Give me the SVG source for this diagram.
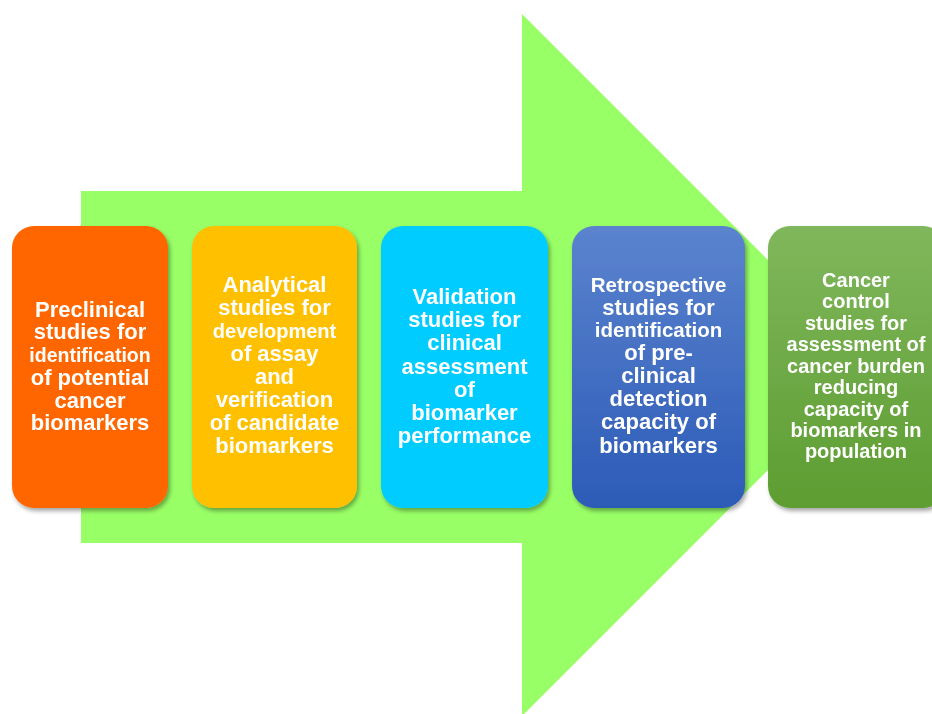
<svg xmlns="http://www.w3.org/2000/svg" width="932" height="714" viewBox="0 0 932 714">
  <style>
    .lbl { font-family: "Liberation Sans", Arial, sans-serif; font-weight: bold; fill: #ffffff; text-anchor: middle; font-size: 22px; }
    .sm { font-size: 20px; }
    .xs { font-size: 19.5px; }
    .md { font-size: 20.5px; }
  </style>
  <defs>
    <filter id="shadow" x="-10%" y="-10%" width="130%" height="130%">
      <feDropShadow dx="2" dy="3" stdDeviation="2" flood-color="#000000" flood-opacity="0.35"/>
    </filter>
    <linearGradient id="blueGrad" x1="0" y1="0" x2="0" y2="1">
      <stop offset="0" stop-color="#5B83CE"/>
      <stop offset="1" stop-color="#2C5BB7"/>
    </linearGradient>
    <linearGradient id="greenGrad" x1="0" y1="0" x2="0" y2="1">
      <stop offset="0" stop-color="#80B75C"/>
      <stop offset="1" stop-color="#5D9D31"/>
    </linearGradient>
  </defs>
  <rect width="932" height="714" fill="#ffffff"/>

  <!-- big block arrow behind the stages -->
  <g id="connectors">
    <path d="M81,191 L522,191 L522,14 L873,365 L522,716 L522,543 L81,543 Z" fill="#99FF66"/>
  </g>

  <g id="stage1" filter="url(#shadow)">
    <rect x="12" y="226" width="156" height="282" rx="22" fill="#FF6600"/>
    <text class="lbl" x="90" y="317">Preclinical</text>
    <text class="lbl" x="90" y="339">studies for</text>
    <text class="lbl xs" x="90" y="362">identification</text>
    <text class="lbl" x="90" y="385">of potential</text>
    <text class="lbl" x="90" y="408">cancer</text>
    <text class="lbl" x="90" y="430">biomarkers</text>
  </g>

  <g id="stage2" filter="url(#shadow)">
    <rect x="192" y="226" width="165" height="282" rx="22" fill="#FFC000"/>
    <text class="lbl" x="274.5" y="292">Analytical</text>
    <text class="lbl" x="274.5" y="315">studies for</text>
    <text class="lbl sm" x="274.5" y="338">development</text>
    <text class="lbl" x="274.5" y="361">of assay</text>
    <text class="lbl" x="274.5" y="384">and</text>
    <text class="lbl" x="274.5" y="407">verification</text>
    <text class="lbl" x="274.5" y="430">of candidate</text>
    <text class="lbl" x="274.5" y="453">biomarkers</text>
  </g>

  <g id="stage3" filter="url(#shadow)">
    <rect x="381" y="226" width="167" height="282" rx="22" fill="#00CCFF"/>
    <text class="lbl" x="464.5" y="304">Validation</text>
    <text class="lbl" x="464.5" y="327">studies for</text>
    <text class="lbl" x="464.5" y="350">clinical</text>
    <text class="lbl" x="464.5" y="374">assessment</text>
    <text class="lbl" x="464.5" y="397">of</text>
    <text class="lbl" x="464.5" y="420">biomarker</text>
    <text class="lbl" x="464.5" y="443">performance</text>
  </g>

  <g id="stage4" filter="url(#shadow)">
    <rect x="572" y="226" width="173" height="282" rx="22" fill="url(#blueGrad)"/>
    <text class="lbl md" x="658.5" y="292">Retrospective</text>
    <text class="lbl" x="658.5" y="315">studies for</text>
    <text class="lbl md" x="658.5" y="337">identification</text>
    <text class="lbl" x="658.5" y="360">of pre-</text>
    <text class="lbl" x="658.5" y="383">clinical</text>
    <text class="lbl" x="658.5" y="406">detection</text>
    <text class="lbl" x="658.5" y="429">capacity of</text>
    <text class="lbl" x="658.5" y="453">biomarkers</text>
  </g>

  <g id="stage5" filter="url(#shadow)">
    <rect x="768" y="226" width="177" height="282" rx="22" fill="url(#greenGrad)"/>
    <text class="lbl sm" x="856" y="287">Cancer</text>
    <text class="lbl sm" x="856" y="308">control</text>
    <text class="lbl sm" x="856" y="330">studies for</text>
    <text class="lbl sm" x="856" y="351">assessment of</text>
    <text class="lbl sm" x="856" y="373">cancer burden</text>
    <text class="lbl sm" x="856" y="394">reducing</text>
    <text class="lbl sm" x="856" y="416">capacity of</text>
    <text class="lbl sm" x="856" y="437">biomarkers in</text>
    <text class="lbl sm" x="856" y="458">population</text>
  </g>
</svg>
